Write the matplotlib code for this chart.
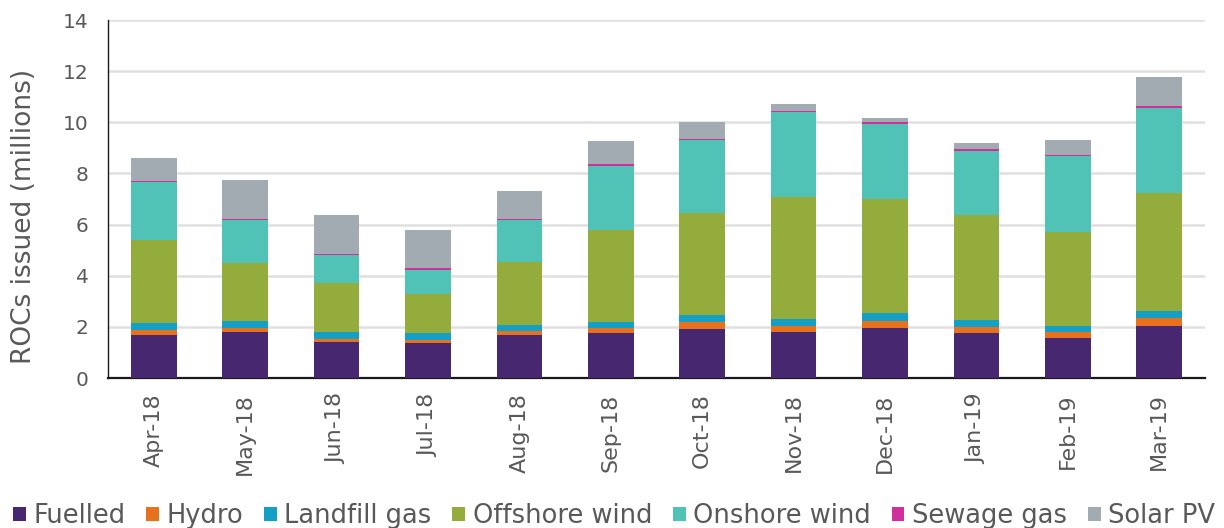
import matplotlib
matplotlib.use("Agg")
import matplotlib.pyplot as plt
import numpy as np

months = ["Apr-18", "May-18", "Jun-18", "Jul-18", "Aug-18", "Sep-18",
          "Oct-18", "Nov-18", "Dec-18", "Jan-19", "Feb-19", "Mar-19"]

fuelled = [1.68, 1.81, 1.42, 1.38, 1.69, 1.76, 1.90, 1.81, 1.94, 1.75, 1.55, 2.05]
hydro = [0.20, 0.16, 0.12, 0.09, 0.14, 0.18, 0.28, 0.24, 0.30, 0.24, 0.24, 0.28]
landfill_gas = [0.28, 0.27, 0.27, 0.28, 0.26, 0.26, 0.27, 0.27, 0.29, 0.29, 0.26, 0.29]
offshore_wind = [3.24, 2.26, 1.89, 1.55, 2.44, 3.60, 4.00, 4.75, 4.46, 4.11, 3.65, 4.60]
onshore_wind = [2.25, 1.67, 1.11, 0.94, 1.65, 2.50, 2.84, 3.32, 2.96, 2.50, 2.98, 3.34]
sewage_gas = [0.06, 0.065, 0.055, 0.06, 0.055, 0.055, 0.05, 0.05, 0.05, 0.06, 0.055, 0.06]
solar_pv = [0.88, 1.49, 1.50, 1.49, 1.09, 0.92, 0.68, 0.28, 0.16, 0.25, 0.56, 1.15]

series_names = ["Fuelled", "Hydro", "Landfill gas", "Offshore wind",
                "Onshore wind", "Sewage gas", "Solar PV"]
series_values = [fuelled, hydro, landfill_gas, offshore_wind,
                 onshore_wind, sewage_gas, solar_pv]
colors = ["#472870", "#E8711E", "#139FC6", "#93AC3C", "#51C2B6", "#D1309A", "#A2ABB1"]

yticks = [0, 2, 4, 6, 8, 10, 12, 14]
text_color = "#595959"

fig = plt.figure(figsize=(12.24, 5.28), dpi=100)
ax = fig.add_axes([108 / 1224, 1 - 378 / 528, (1205 - 108) / 1224, (378 - 20) / 528])

x = np.arange(len(months))
bottom = np.zeros(len(months))
handles = []
for name, vals, c in zip(series_names, series_values, colors):
    v = np.array(vals)
    b = ax.bar(x, v, width=0.5, bottom=bottom, color=c, edgecolor="none",
               linewidth=0, label=name, zorder=3)
    handles.append(b)
    bottom += v

ax.set_xlim(-0.5, len(months) - 0.5)
ax.set_ylim(0, 14)
ax.set_yticks(yticks)
ax.set_yticklabels([str(t) for t in yticks], fontsize=14.5, color=text_color)
ax.set_xticks(x)
ax.set_xticklabels(months, rotation=90, fontsize=16, color=text_color)
ax.tick_params(axis="both", length=0)
ax.tick_params(axis="x", pad=11)
ax.tick_params(axis="y", pad=14)
ax.yaxis.grid(True, color="#e0e0e0", linewidth=1.8, zorder=0)
ax.set_axisbelow(True)
for s in ["top", "right"]:
    ax.spines[s].set_visible(False)
ax.spines["left"].set_color("#1a1a1a")
ax.spines["left"].set_linewidth(1.0)
ax.spines["bottom"].set_color("#1a1a1a")
ax.spines["bottom"].set_linewidth(1.6)
ax.set_ylabel("ROCs issued (millions)", fontsize=19, color=text_color)
ax.yaxis.set_label_coords((37 - 108) / 1097, (378 - 216) / 358)

fig.legend(handles=handles, labels=series_names, loc="center", ncol=7,
           bbox_to_anchor=(614 / 1224, 1 - 516 / 528), frameon=False,
           fontsize=18.5, labelcolor=text_color, handlelength=0.5, handleheight=0.5,
           handletextpad=0.3, columnspacing=0.8, borderaxespad=0, borderpad=0)

fig.savefig("out.png", dpi=100)
